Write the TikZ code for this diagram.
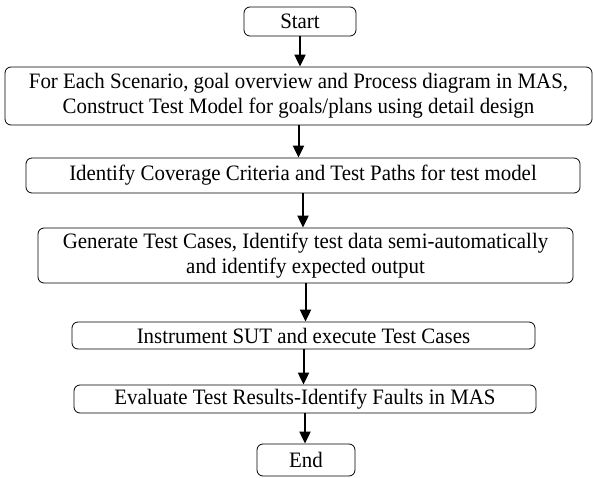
\documentclass[tikz,border=0pt]{standalone}
\usepackage{fontspec}
\setmainfont{Liberation Serif}[FakeStretch=0.95]
\usetikzlibrary{arrows.meta}
\begin{document}
\begin{tikzpicture}[x=1pt, y=1pt, font=\fontsize{22}{25}\selectfont, line join=round,
 >={Triangle[length=12pt,width=11pt]},
 stepbox/.style={draw, line width=0.8pt, rounded corners=6pt, align=center, inner sep=0pt},
 flow/.style={->, line width=2pt}]
 \useasboundingbox (0,0) rectangle (593,477);
 \node[stepbox, minimum width=112, minimum height=29] (start) at (300,455.5) {Start};
 \node[stepbox, minimum width=587, minimum height=58] (model) at (298.5,381)
 {For Each Scenario, goal overview and Process diagram in MAS,\\
 Construct Test Model for goals/plans using detail design};
 \node[stepbox, minimum width=554, minimum height=35] (paths) at (303,301.5)
 {Identify Coverage Criteria and Test Paths for test model};
 \node[stepbox, minimum width=535, minimum height=55] (cases) at (305.5,221.5)
 {Generate Test Cases, Identify test data semi-automatically\\
 and identify expected output};
 \node[stepbox, minimum width=463, minimum height=27] (exec) at (303.5,141.5)
 {Instrument SUT and execute Test Cases};
 \node[stepbox, minimum width=462, minimum height=28] (eval) at (305,78)
 {Evaluate Test Results-Identify Faults in MAS};
 \node[stepbox, minimum width=98, minimum height=32] (end) at (306,17) {End};
 \foreach \a/\b in {start/model, model/paths, paths/cases, cases/exec, exec/eval, eval/end}
 \draw[flow] (\a.south) -- (\a.south |- \b.north);
\end{tikzpicture}
\end{document}
